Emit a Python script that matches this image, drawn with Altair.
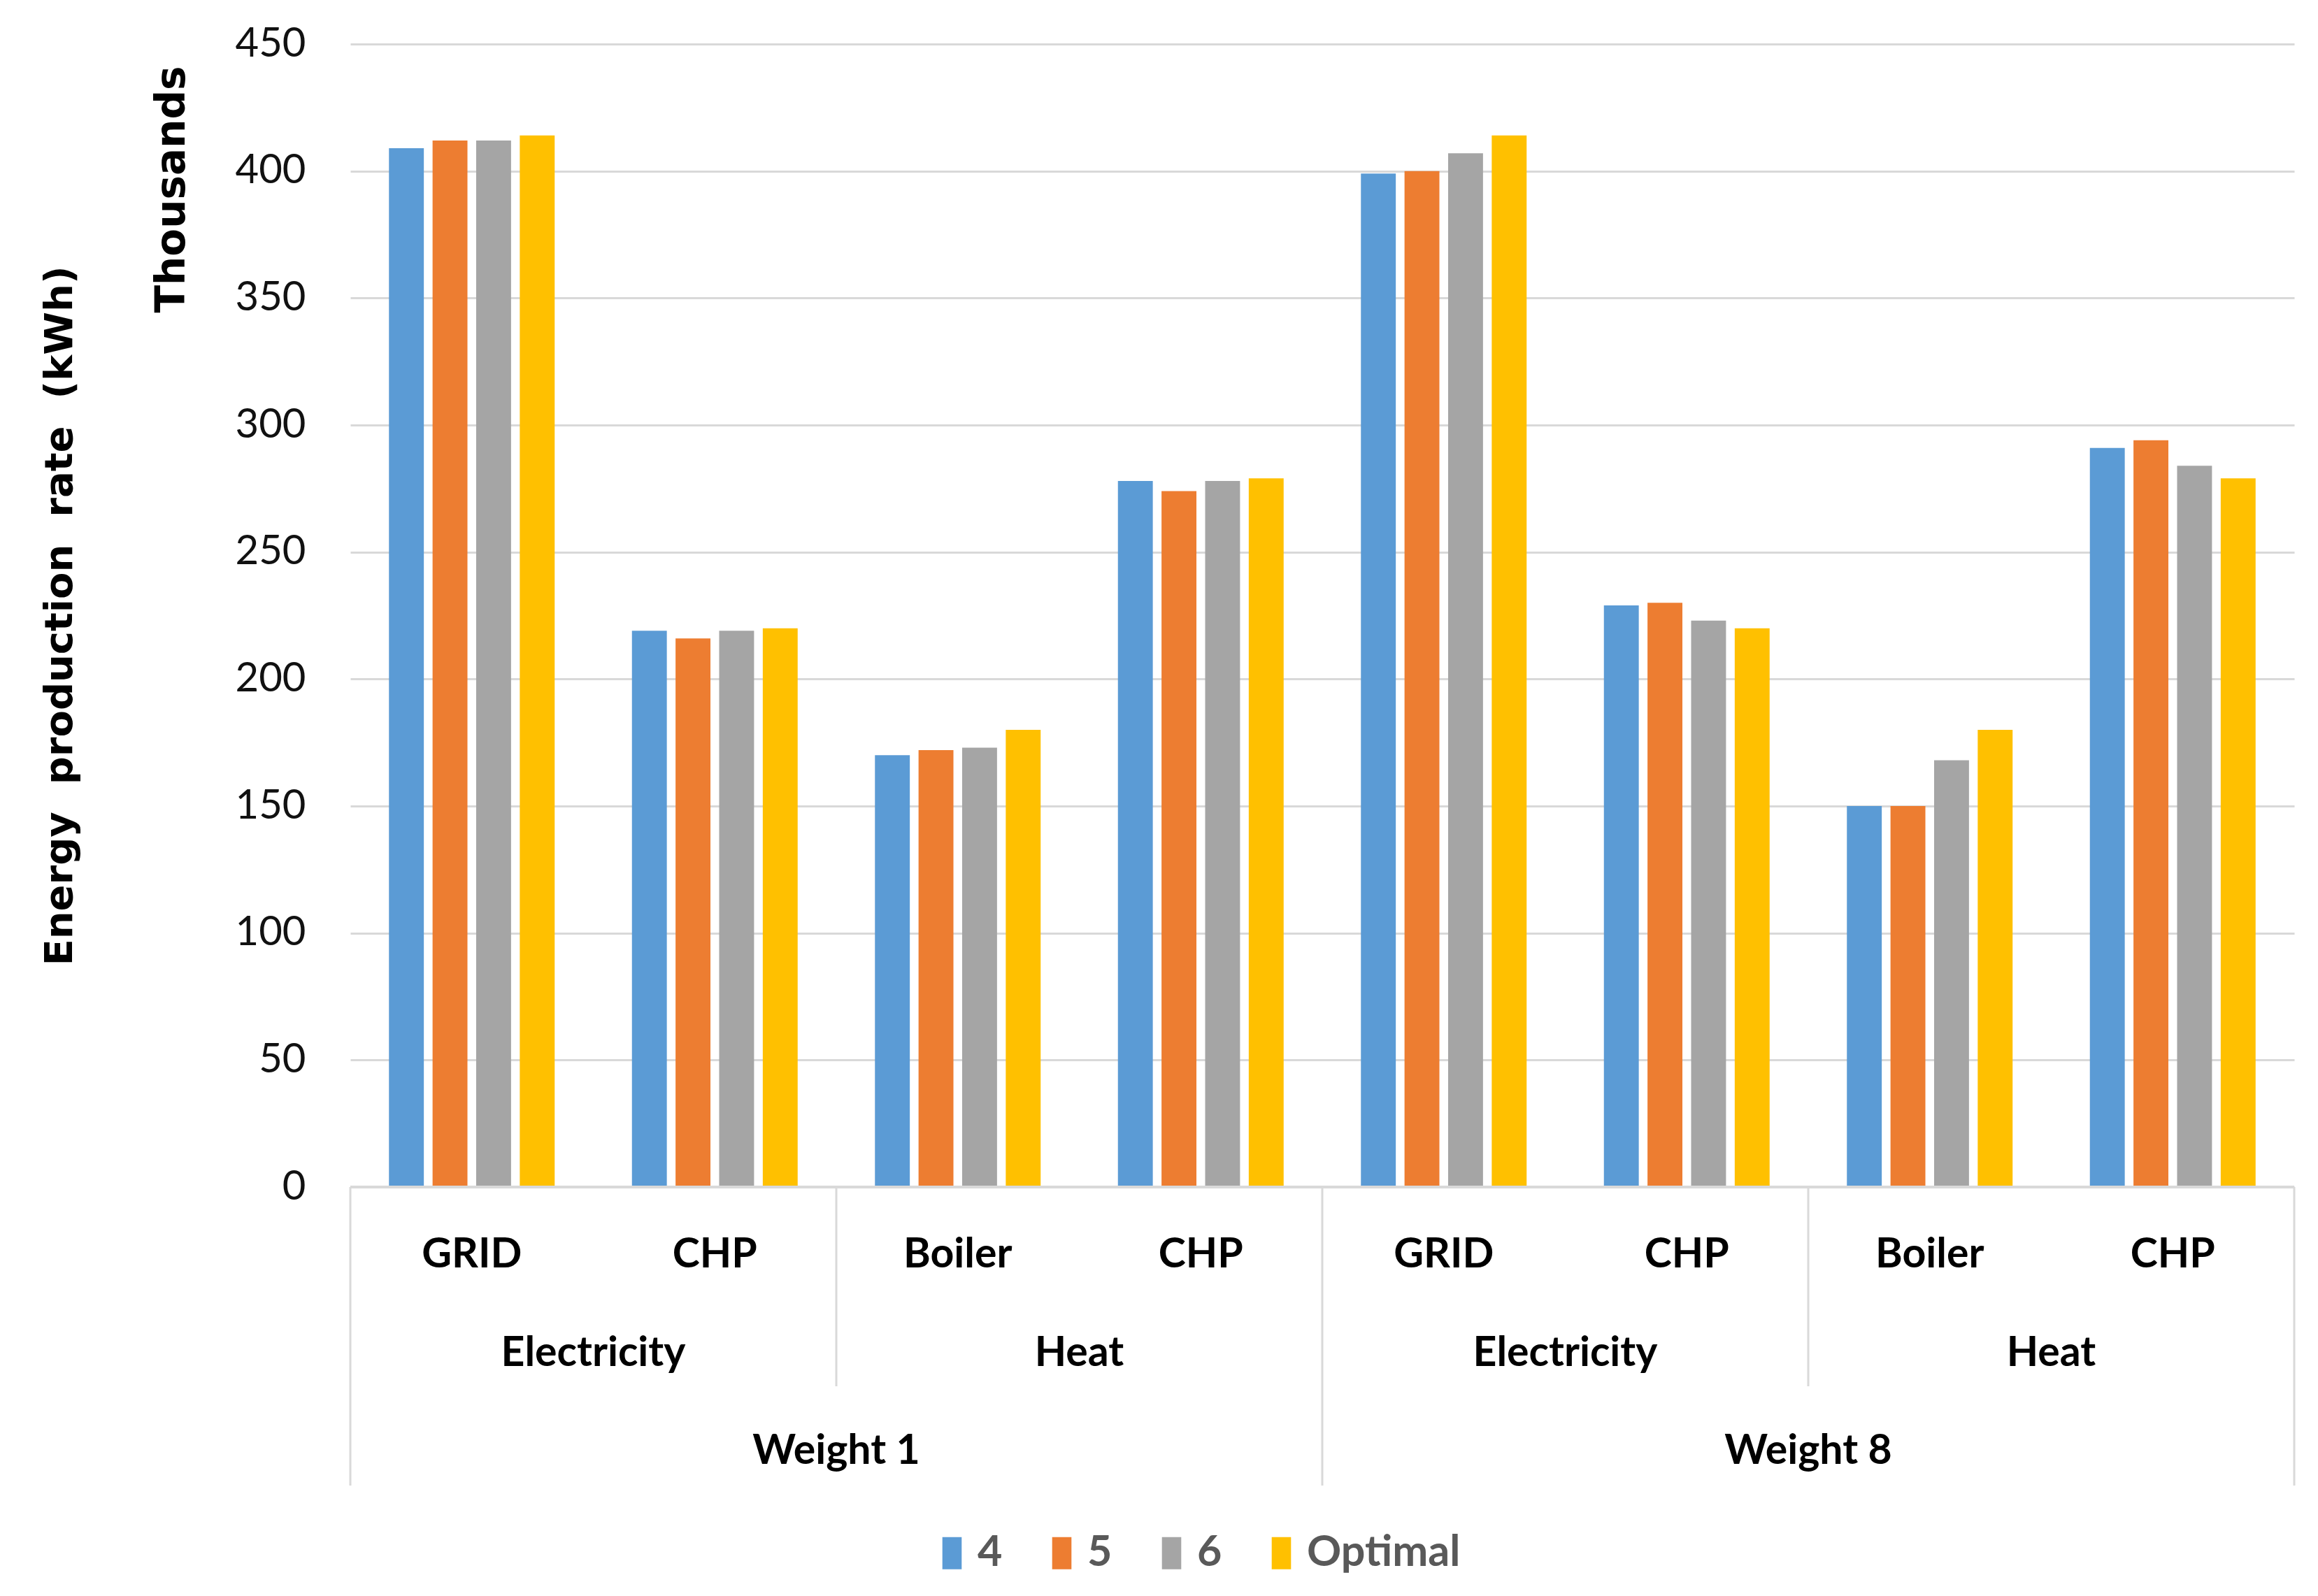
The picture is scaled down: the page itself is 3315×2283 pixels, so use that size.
import altair as alt
import pandas as pd

# ---- data ----
cat_weight = ["Weight 1"] * 4 + ["Weight 8"] * 4
cat_type = ["Electricity", "Electricity", "Heat", "Heat"] * 2
cat_source = ["GRID", "CHP", "Boiler", "CHP"] * 2
series = ["4", "5", "6", "Optimal"]
s4 = [409, 219, 170, 278, 399, 229, 150, 291]
s5 = [412, 216, 172, 274, 400, 230, 150, 294]
s6 = [412, 219, 173, 278, 407, 223, 168, 284]
sopt = [414, 220, 180, 279, 414, 220, 180, 279]
y_ticks = [0, 50, 100, 150, 200, 250, 300, 350, 400, 450]
colors = ["#5b9bd5", "#ed7d31", "#a5a5a5", "#ffc000"]

keys = [f"{i}|{w}|{t}|{s}" for i, (w, t, s) in enumerate(zip(cat_weight, cat_type, cat_source))]

rows = []
for vals, name in zip([s4, s5, s6, sopt], series):
    for k, v in zip(keys, vals):
        rows.append({"key": k, "series": name, "value": v})
bars_df = pd.DataFrame(rows)

lvl1 = pd.DataFrame({"key": keys, "label": cat_source})
lvl2 = pd.DataFrame({"key": [keys[i] for i in range(0, 8, 2)],
                     "label": [cat_type[i] for i in range(0, 8, 2)]})
lvl3 = pd.DataFrame({"key": [keys[1], keys[5]], "label": [cat_weight[0], cat_weight[4]]})
sep_long = pd.DataFrame({"key": [keys[0], keys[4]]})
sep_short = pd.DataFrame({"key": [keys[2], keys[6]]})
sep_end = pd.DataFrame({"key": [keys[7]]})

W, H = 2780, 1635
FONT = "Lato"
TFONT = "DejaVu Sans"
NB = "\u00a0"

xscale = alt.Scale(domain=keys, paddingInner=0, paddingOuter=0)

bars = alt.Chart(bars_df).mark_bar().encode(
    x=alt.X("key:N", scale=xscale, axis=None, sort=keys),
    xOffset=alt.XOffset("series:N", sort=series,
                        scale=alt.Scale(domain=series, paddingInner=0.2, paddingOuter=0.886)),
    y=alt.Y("value:Q", scale=alt.Scale(domain=[0, 450]),
            axis=alt.Axis(values=y_ticks, grid=True, gridColor="#d9d9d9", gridWidth=3,
                          domain=False, ticks=False, labelFontSize=58, labelFont=FONT,
                          labelColor="#111111", labelPadding=64,
                          title=f"Energy{NB}{NB}production{NB}{NB}rate{NB}{NB}(kWh)",
                          titleFont=TFONT, titleFontSize=56, titleFontWeight="bold",
                          titleColor="#000000", titleAngle=270, titleX=-416, titleY=H / 2,
                          titleAlign="center", titleBaseline="middle", titleLimit=0)),
    color=alt.Color("series:N", sort=series,
                    scale=alt.Scale(domain=series, range=colors),
                    legend=alt.Legend(orient="none", direction="horizontal",
                                      legendX=830, legendY=2128, title=None,
                                      labelFont=FONT, labelFontSize=61, labelFontWeight="bold",
                                      labelColor="#595959", labelLimit=0,
                                      symbolType="M-0.6,-1H0.6V1H-0.6Z", symbolSize=2116,
                                      symbolStrokeWidth=0, symbolOpacity=1,
                                      columnPadding=54, labelOffset=6)),
)

baseline = alt.Chart(pd.DataFrame({"v": [0]})).mark_rule(color="#d9d9d9", strokeWidth=4).encode(
    y=alt.Y("v:Q"), x=alt.value(0), x2=alt.value(W))

text1 = alt.Chart(lvl1).mark_text(font=FONT, fontSize=59, fontWeight="bold", color="#000000",
                                  baseline="middle").encode(
    x=alt.X("key:N", scale=xscale, sort=keys, bandPosition=0.5), y=alt.value(1732), text="label:N")
text2 = alt.Chart(lvl2).mark_text(font=FONT, fontSize=59, fontWeight="bold", color="#000000",
                                  baseline="middle").encode(
    x=alt.X("key:N", scale=xscale, sort=keys, bandPosition=1), y=alt.value(1873), text="label:N")
text3 = alt.Chart(lvl3).mark_text(font=FONT, fontSize=59, fontWeight="bold", color="#000000",
                                  baseline="middle").encode(
    x=alt.X("key:N", scale=xscale, sort=keys, bandPosition=1), y=alt.value(2013), text="label:N")

rule_long = alt.Chart(sep_long).mark_rule(color="#d9d9d9", strokeWidth=3).encode(
    x=alt.X("key:N", scale=xscale, sort=keys, bandPosition=0), y=alt.value(H), y2=alt.value(2062))
rule_short = alt.Chart(sep_short).mark_rule(color="#d9d9d9", strokeWidth=3).encode(
    x=alt.X("key:N", scale=xscale, sort=keys, bandPosition=0), y=alt.value(H), y2=alt.value(1920))
rule_end = alt.Chart(sep_end).mark_rule(color="#d9d9d9", strokeWidth=3).encode(
    x=alt.X("key:N", scale=xscale, sort=keys, bandPosition=1), y=alt.value(H), y2=alt.value(2062))

thousands = alt.Chart(pd.DataFrame({"t": ["Thousands"]})).mark_text(
    font=TFONT, fontSize=58, fontWeight="bold", color="#000000", angle=270,
    align="center", baseline="middle").encode(
    x=alt.value(-254), y=alt.value(208), text="t:N")

chart = alt.layer(bars, baseline, rule_long, rule_short, rule_end, text1, text2, text3, thousands).properties(
    width=W, height=H,
    autosize=alt.AutoSizeParams(type="none"),
    padding={"left": 493, "top": 55, "right": 26, "bottom": 560},
).configure_view(stroke=None)

chart.save("out.html", embed_options={"renderer": "svg", "actions": False})
